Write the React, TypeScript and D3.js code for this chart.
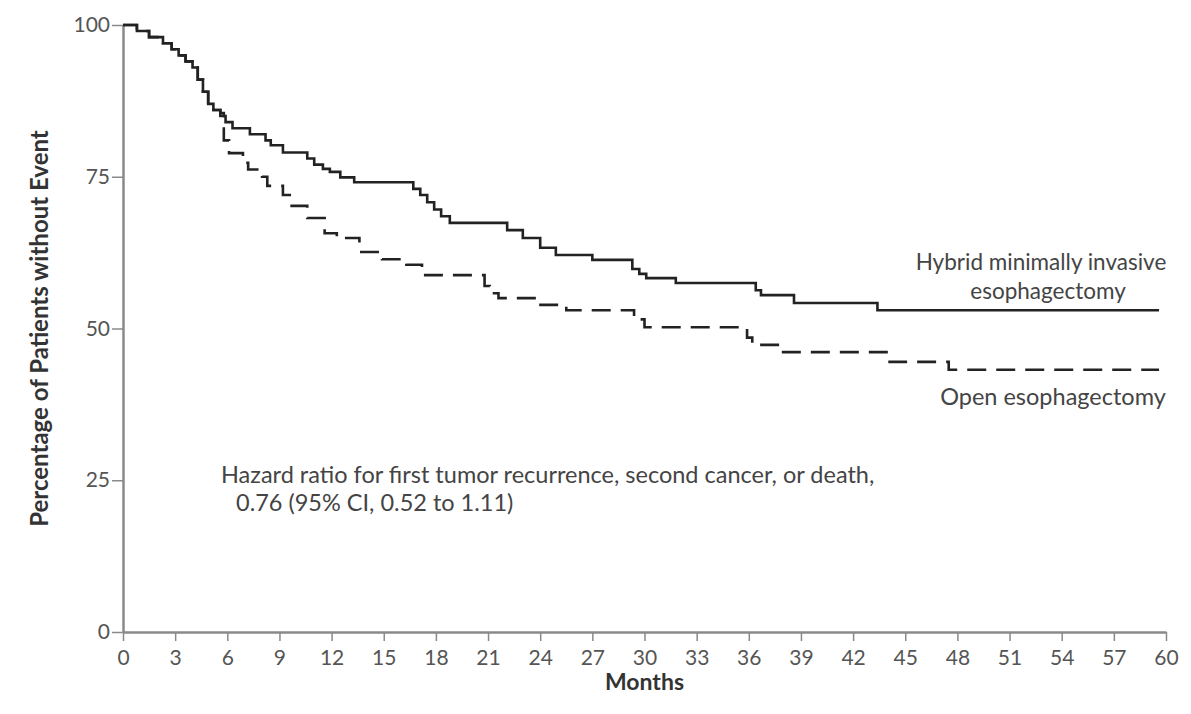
import { useEffect, useRef } from "react";
import * as d3 from "d3";

// Kaplan-Meier steps (month, percent without event)
const hybridMonths = [0, 0.8, 1.5, 2.3, 2.8, 3.2, 3.6, 4.0, 4.3, 4.6, 4.9, 5.2, 5.6, 5.9, 6.3, 7.3, 8.2, 8.5, 9.2, 10.6, 11.0, 11.5, 11.9, 12.5, 13.3, 16.7, 17.1, 17.5, 17.9, 18.3, 18.8, 22.1, 23.0, 24.0, 24.9, 27.0, 29.3, 29.7, 30.1, 31.8, 36.4, 36.7, 38.6, 43.4, 59.6];
const hybridPct = [100, 99, 98, 97, 96, 95, 94, 93, 91, 89, 87, 86, 85, 84, 83, 82, 81, 80.2, 79, 78, 77, 76.3, 75.8, 74.9, 74.1, 73, 72, 70.8, 69.6, 68.5, 67.4, 66.2, 64.9, 63.3, 62.1, 61.3, 59.8, 59, 58.3, 57.5, 56.3, 55.5, 54.2, 53.0, 53.0];

const openMonths = [0, 0.8, 1.5, 2.3, 2.8, 3.2, 3.6, 4.0, 4.3, 4.6, 4.9, 5.2, 5.6, 5.8, 6.1, 6.9, 7.2, 8.0, 8.3, 9.2, 9.7, 10.6, 11.6, 12.3, 13.6, 14.9, 16.3, 17.2, 20.8, 21.1, 21.6, 23.9, 25.5, 29.4, 30.0, 35.9, 36.2, 37.8, 44.1, 47.5, 59.6];
const openPct = [100, 99, 98, 97, 96, 95, 94, 93, 91, 89, 87, 86, 85.5, 81, 78.9, 77.3, 76.2, 75, 73.5, 72, 70.2, 68.2, 65.7, 64.9, 62.6, 61.4, 60.5, 58.8, 57, 55.8, 55, 53.9, 53, 51.5, 50.2, 48.5, 47.3, 46.1, 44.5, 43.2, 43.2];

const xTicks = d3.range(0, 61, 3);
const yTicks = [0, 25, 50, 75, 100];

const hybridLabel = ["Hybrid minimally invasive", "esophagectomy"];
const openLabel = "Open esophagectomy";
const hazardLines = ["Hazard ratio for first tumor recurrence, second cancer, or death,", "0.76 (95% CI, 0.52 to 1.11)"];

const width = 1191;
const height = 714;
const margin = { top: 25, right: 25, bottom: 82, left: 123 };
const font = "Lato, 'Noto Sans', sans-serif";

export default function App() {
    const gRef = useRef<SVGGElement | null>(null);

    useEffect(() => {
        const g = d3.select(gRef.current);
        g.selectAll("*").remove();

        const x = d3.scaleLinear().domain([0, 60]).range([margin.left, width - margin.right]);
        const y = d3.scaleLinear().domain([0, 100]).range([height - margin.bottom, margin.top]);

        const axisColor = "#8a8a8a";
        const labelColor = "#555";

        // x axis
        const xAxis = g.append("g")
            .attr("transform", `translate(0,${y(0)})`)
            .call(d3.axisBottom(x).tickValues(xTicks).tickSize(9).tickPadding(9).tickSizeOuter(0));
        xAxis.select(".domain").attr("stroke", axisColor).attr("stroke-width", 2.5);
        xAxis.selectAll(".tick line").attr("stroke", axisColor).attr("stroke-width", 1.5);
        xAxis.selectAll(".tick text")
            .attr("fill", labelColor).style("font-family", font).style("font-size", "21px");

        // y axis
        const yAxis = g.append("g")
            .attr("transform", `translate(${x(0)},0)`)
            .call(d3.axisLeft(y).tickValues(yTicks).tickSize(11).tickPadding(2).tickSizeOuter(0));
        yAxis.select(".domain").attr("stroke", axisColor).attr("stroke-width", 2.5);
        yAxis.selectAll(".tick line").attr("stroke", axisColor).attr("stroke-width", 1.5);
        yAxis.selectAll(".tick text")
            .attr("fill", labelColor).style("font-family", font).style("font-size", "21px");

        const line = d3.line<[number, number]>()
            .x(d => x(d[0]))
            .y(d => y(d[1]))
            .curve(d3.curveStepAfter);

        const hybrid: [number, number][] = hybridMonths.map((m, i) => [m, hybridPct[i]]);
        const open: [number, number][] = openMonths.map((m, i) => [m, openPct[i]]);

        g.append("path")
            .datum(open)
            .attr("fill", "none")
            .attr("stroke", "#222")
            .attr("stroke-width", 2.6)
            .attr("stroke-dasharray", "19 10")
            .attr("d", line);

        g.append("path")
            .datum(hybrid)
            .attr("fill", "none")
            .attr("stroke", "#222")
            .attr("stroke-width", 2.6)
            .attr("d", line);

        // axis titles
        g.append("text")
            .attr("x", x(30))
            .attr("y", 690)
            .attr("text-anchor", "middle")
            .attr("fill", "#333")
            .style("font-family", font)
            .style("font-weight", 700)
            .style("font-size", "23px")
            .text("Months");

        g.append("text")
            .attr("transform", `translate(48,${y(50)}) rotate(-90)`)
            .attr("text-anchor", "middle")
            .attr("fill", "#333")
            .style("font-family", font)
            .style("font-weight", 700)
            .style("font-size", "24px")
            .text("Percentage of Patients without Event");

        // curve labels
        const lbl = g.append("g")
            .attr("fill", "#444")
            .style("font-family", font)
            .style("font-size", "23.5px");
        lbl.append("text")
            .attr("x", 1041).attr("y", 270)
            .attr("text-anchor", "middle")
            .style("font-size", "22.5px")
            .text(hybridLabel[0]);
        lbl.append("text")
            .attr("x", 1048).attr("y", 299)
            .attr("text-anchor", "middle")
            .style("font-size", "22.5px")
            .text(hybridLabel[1]);
        lbl.append("text")
            .attr("x", 1053).attr("y", 405)
            .attr("text-anchor", "middle")
            .text(openLabel);

        lbl.append("text")
            .attr("x", 221).attr("y", 483)
            .text(hazardLines[0]);
        lbl.append("text")
            .attr("x", 236).attr("y", 511)
            .text(hazardLines[1]);
    }, []);

    return (
        <svg width={width} height={height} style={{ position: "absolute", left: 0, top: 0, background: "white" }}>
            <g ref={gRef}></g>
        </svg>
    );
}
